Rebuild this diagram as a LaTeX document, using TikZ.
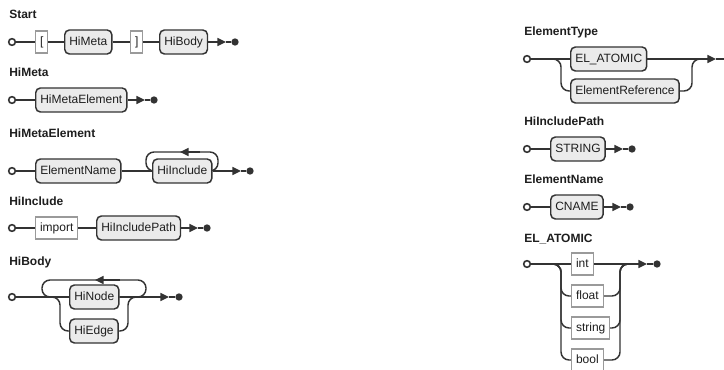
\documentclass[tikz,border=0pt]{standalone}
\usepackage{fontspec}
\setmainfont{Liberation Sans}
\usetikzlibrary{arrows.meta,calc}
\pgfdeclarelayer{rails}
\pgfsetlayers{rails,main}
\definecolor{rail}{HTML}{333333}
\definecolor{ntfill}{HTML}{EBEBEB}
\definecolor{tmline}{HTML}{9A9A9A}
\definecolor{ink}{HTML}{1E1E1E}

\begin{document}
\begin{tikzpicture}[x=0.75pt,y=-0.75pt,
  boxfont/.style={font=\fontsize{9}{11}\selectfont,text=ink,text height=6.6pt,text depth=1.9pt},
  rr/.style={draw=rail,line width=1.1pt},
  rrc/.style={rr,rounded corners=6pt},
  tip/.style={rr,-{Triangle[length=6.5pt,width=6pt]}},
  nt/.style={boxfont,draw=rail,fill=ntfill,line width=1.1pt,rounded corners=3.5pt,
    minimum height=18pt,inner xsep=3.4pt,inner ysep=0pt,anchor=west},
  tm/.style={boxfont,draw=tmline,fill=white,line width=0.8pt,
    minimum height=16.5pt,inner xsep=3.4pt,inner ysep=0pt,anchor=west},
  ttl/.style={anchor=base west,font=\bfseries\fontsize{9}{11}\selectfont,text=ink,inner sep=0pt},
  startpt/.style={circle,draw=rail,fill=white,line width=1.2pt,minimum size=5pt,inner sep=0pt},
  endpt/.style={circle,fill=rail,minimum size=5.5pt,inner sep=0pt},
]
\useasboundingbox (0,0) rectangle (724,370);

% ---------- Start ----------
\node[ttl] (tStart) at (9,18.5) {Start};
\node[startpt] (s1) at (12,42) {};
\node[tm] (lb) at (35,42) {[};
\node[nt] (HiMetaRef) at (64,42) {HiMeta};
\node[tm] (rb) at (130,42) {]};
\node[nt] (HiBodyRef) at (159,42) {HiBody};
\coordinate (a1) at (226,42);
\node[endpt] (e1) at (235,42) {};

% ---------- HiMeta ----------
\node[ttl] (tHiMeta) at (9,77) {HiMeta};
\node[startpt] (s2) at (12,100) {};
\node[nt] (HiMetaElementRef) at (35,100) {HiMetaElement};
\coordinate (a2) at (145,100);
\node[endpt] (e2) at (154,100) {};

% ---------- HiMetaElement ----------
\node[ttl] (tHiMetaElement) at (9,137.3) {HiMetaElement};
\node[startpt] (s3) at (12,171) {};
\node[nt] (ElementNameRef) at (35,171) {ElementName};
\node[nt] (HiIncludeRef) at (152,171) {HiInclude};
\coordinate (lR0) at (200,171);
\coordinate (lB) at (218,152);
\coordinate (lC) at (146,152);
\coordinate (lL0) at (162,171);
\coordinate (lT1) at (200,152);
\coordinate (lT2) at (180,152);
\coordinate (a3) at (241,171);
\node[endpt] (e3) at (250,171) {};

% ---------- HiInclude ----------
\node[ttl] (tHiInclude) at (9,206) {HiInclude};
\node[startpt] (s4) at (12,228) {};
\node[tm] (importKw) at (35,228) {import};
\node[nt] (HiIncludePathRef) at (96,228) {HiIncludePath};
\coordinate (a4) at (198,228);
\node[endpt] (e4) at (207,228) {};

% ---------- HiBody ----------
\node[ttl] (tHiBody) at (9,265) {HiBody};
\node[startpt] (s5) at (12,297) {};
\node[nt] (HiNodeRef) at (69,297) {HiNode};
\node[nt] (HiEdgeRef) at (69,331) {HiEdge};
\coordinate (bR0) at (110,297);
\coordinate (bB) at (146,280);
\coordinate (bC) at (42,280);
\coordinate (bL0) at (80,297);
\coordinate (bT1) at (120,280);
\coordinate (bT2) at (95,280);
\coordinate (bS) at (45,297);
\coordinate (bD) at (60,331);
\coordinate (bE) at (80,331);
\coordinate (bF) at (105,331);
\coordinate (bG) at (128,297);
\coordinate (bH) at (140,297);
\coordinate (a5) at (169,297);
\node[endpt] (e5) at (179,297) {};

% ---------- ElementType ----------
\node[ttl] (tElementType) at (524,36) {ElementType};
\node[startpt] (s6) at (527,59) {};
\node[nt] (ElAtomicRef) at (570,59) {EL\_ATOMIC};
\node[nt] (ElementReferenceRef) at (570,91) {ElementReference};
\coordinate (tS) at (548,59);
\coordinate (tD) at (561,91);
\coordinate (tE) at (590,91);
\coordinate (tF) at (660,91);
\coordinate (tG) at (692,59);
\coordinate (tH) at (704,59);
\coordinate (a6) at (716,59);
\node[endpt] (e6) at (728,59) {};

% ---------- HiIncludePath ----------
\node[ttl] (tHiIncludePath) at (524,125.7) {HiIncludePath};
\node[startpt] (s7) at (527,149) {};
\node[nt] (StringRef) at (550,149) {STRING};
\coordinate (a7) at (623,149);
\node[endpt] (e7) at (632,149) {};

% ---------- ElementName ----------
\node[ttl] (tElementName) at (524,184) {ElementName};
\node[startpt] (s8) at (527,207) {};
\node[nt] (CnameRef) at (550,207) {CNAME};
\coordinate (a8) at (621,207);
\node[endpt] (e8) at (630,207) {};

% ---------- EL_ATOMIC ----------
\node[ttl] (tElAtomic) at (524,242.7) {EL\_ATOMIC};
\node[startpt] (s9) at (527,264) {};
\node[tm] (intKw) at (571,264) {int};
\node[tm] (floatKw) at (571,296) {float};
\node[tm] (stringKw) at (571,328) {string};
\node[tm] (boolKw) at (571,360) {bool};
\coordinate (kS) at (549,264);
\coordinate (kG) at (620,264);
\coordinate (kH) at (632,264);
\coordinate (a9) at (647,264);
\node[endpt] (e9) at (657,264) {};

\begin{pgfonlayer}{rails}
  \fill[white] (0,0) rectangle (724,370);

  % Start
  \draw[rr] (s1) -- (lb);
  \draw[rr] (lb) -- (HiMetaRef);
  \draw[rr] (HiMetaRef) -- (rb);
  \draw[rr] (rb) -- (HiBodyRef);
  \draw[tip] (HiBodyRef) -- (a1);
  \draw[rr] (a1) -- (e1);

  % HiMeta
  \draw[rr] (s2) -- (HiMetaElementRef);
  \draw[tip] (HiMetaElementRef) -- (a2);
  \draw[rr] (a2) -- (e2);

  % HiMetaElement: HiInclude repeated one or more times
  \draw[rr] (s3) -- (ElementNameRef);
  \draw[rr] (ElementNameRef) -- (HiIncludeRef);
  \draw[rrc] (lR0) -| (lB) -- (lC) |- (lL0);
  \draw[tip] (lT1) -- (lT2);
  \draw[tip] (HiIncludeRef) -- (a3);
  \draw[rr] (a3) -- (e3);

  % HiInclude
  \draw[rr] (s4) -- (importKw);
  \draw[rr] (importKw) -- (HiIncludePathRef);
  \draw[tip] (HiIncludePathRef) -- (a4);
  \draw[rr] (a4) -- (e4);

  % HiBody: a repeated choice of HiNode / HiEdge
  \draw[rr] (s5) -- (HiNodeRef);
  \draw[rrc] (bR0) -| (bB) -- (bC) |- (bL0);
  \draw[tip] (bT1) -- (bT2);
  \draw[rrc] (bS) -| (bD) -- (bE);
  \draw[rrc] (bF) -| (bG) -- (bH);
  \draw[tip] (HiNodeRef) -- (a5);
  \draw[rr] (a5) -- (e5);

  % ElementType
  \draw[rr] (s6) -- (ElAtomicRef);
  \draw[rrc] (tS) -| (tD) -- (tE);
  \draw[rrc] (tF) -| (tG) -- (tH);
  \draw[tip] (ElAtomicRef) -- (a6);
  \draw[rr] (a6) -- (e6);

  % EL_ATOMIC
  \draw[rr] (s9) -- (intKw);
  \foreach \k in {floatKw,stringKw,boolKw}{
    \draw[rrc] (kS) -| ($(\k.west)+(-10,0)$) -- (\k.center);
    \draw[rrc] (\k.center) -| (kG) -- (kH);
  }
  \draw[tip] (intKw) -- (a9);
  \draw[rr] (a9) -- (e9);

  % HiIncludePath
  \draw[rr] (s7) -- (StringRef);
  \draw[tip] (StringRef) -- (a7);
  \draw[rr] (a7) -- (e7);

  % ElementName
  \draw[rr] (s8) -- (CnameRef);
  \draw[tip] (CnameRef) -- (a8);
  \draw[rr] (a8) -- (e8);
\end{pgfonlayer}
\end{tikzpicture}
\end{document}
